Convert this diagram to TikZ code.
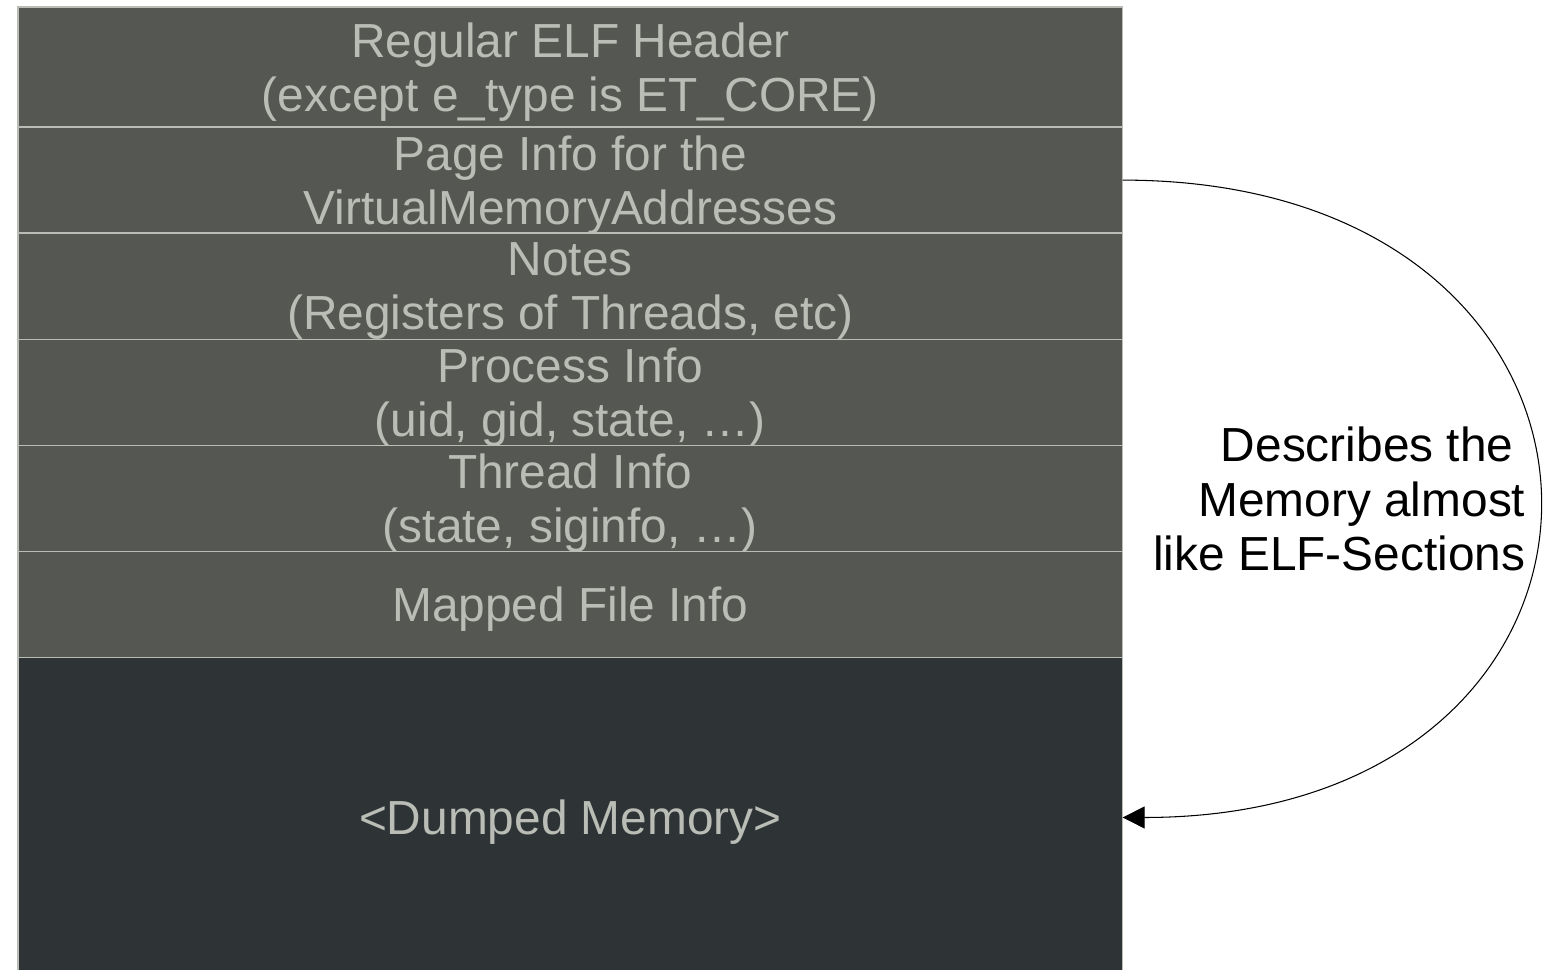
\documentclass[tikz,border=0pt]{standalone}
\usepackage{fontspec}
\setmainfont{Liberation Sans}
\usetikzlibrary{positioning,arrows.meta}

\definecolor{rowgray}{HTML}{555753}
\definecolor{memgray}{HTML}{2E3436}
\definecolor{rowtext}{HTML}{BABDB6}

\begin{document}
\begin{tikzpicture}[x=0.01cm,y=-0.01cm,>={Triangle[length=0.22cm,width=0.22cm]},
 node distance=0pt,
 row/.style={draw=rowtext,fill=rowgray,text=rowtext,minimum width=11.04cm,minimum height=1.06cm,
   inner sep=0pt,outer sep=0pt,text depth=0pt,align=center,font=\fontsize{13.6pt}{15.4pt}\selectfont}]
 \useasboundingbox (0,0) rectangle (1543,969);

 \node[row,anchor=north west,minimum height=1.2cm] (hdr) at (18,7) {Regular ELF Header\\(except e\_type is ET\_CORE)};
 \node[row] (page)   [below=of hdr]    {Page Info for the\\VirtualMemoryAddresses};
 \node[row] (notes)  [below=of page]   {Notes\\(Registers of Threads, etc)};
 \node[row] (proc)   [below=of notes]  {Process Info\\(uid, gid, state, …)};
 \node[row] (thread) [below=of proc]   {Thread Info\\(state, siginfo, …)};
 \node[row] (mapped) [below=of thread] {Mapped File Info};
 \node[row,fill=memgray,minimum height=3.2cm] (dump) [below=of mapped] {<Dumped Memory>};

 \node[align=right,anchor=east,inner sep=0pt,font=\fontsize{13.6pt}{15.4pt}\selectfont] (note) at (1526,499)
   {Describes the\hspace*{0.25em}\\Memory almost\\like ELF-Sections};

 \draw[->,line width=0.3pt] (page.east) .. controls +(555,0) and +(555,0) .. (dump.east);
\end{tikzpicture}
\end{document}
